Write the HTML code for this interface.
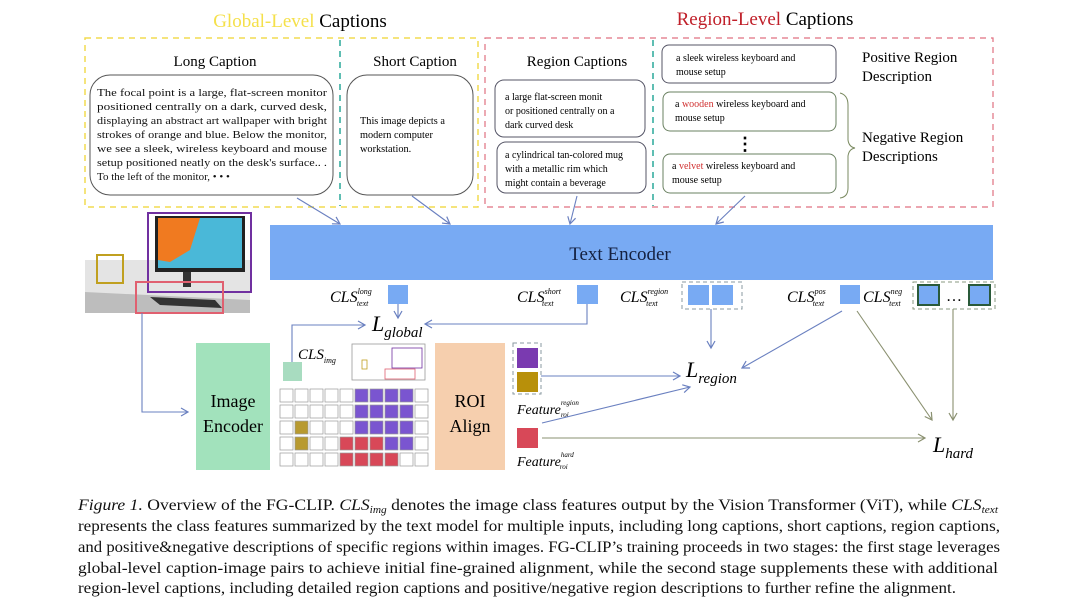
<!DOCTYPE html>
<html><head><meta charset="utf-8"><style>
html,body{margin:0;padding:0;background:#fff}
svg{display:block}
.s{font-family:"Liberation Serif",serif}
</style></head><body>
<svg width="1080" height="611" viewBox="0 0 1080 611" xmlns="http://www.w3.org/2000/svg" class="s">
<defs>
<marker id="a" markerWidth="10" markerHeight="10" refX="8" refY="5" orient="auto" markerUnits="userSpaceOnUse"><path d="M1,1 L8,5 L1,9" fill="none" stroke="#6a80c0" stroke-width="1.2"/></marker>
<marker id="g" markerWidth="10" markerHeight="10" refX="8" refY="5" orient="auto" markerUnits="userSpaceOnUse"><path d="M1,1 L8,5 L1,9" fill="none" stroke="#8a9070" stroke-width="1.2"/></marker>
</defs>
<text x="300" y="27" font-size="19" text-anchor="middle"><tspan fill="#f5e04a">Global-Level</tspan> Captions</text>
<text x="765" y="25" font-size="19" text-anchor="middle"><tspan fill="#c0202a">Region-Level</tspan> Captions</text>
<rect x="85" y="38" width="393" height="169" fill="none" stroke="#f2dc50" stroke-width="1.5" stroke-dasharray="6,5"/>
<line x1="340" y1="40" x2="340" y2="206" stroke="#2aa89a" stroke-width="1.5" stroke-dasharray="6,5"/>
<rect x="485" y="38" width="508" height="169" fill="none" stroke="#e07080" stroke-width="1.2" stroke-dasharray="6,5"/>
<line x1="653" y1="40" x2="653" y2="206" stroke="#2aa89a" stroke-width="1.5" stroke-dasharray="6,5"/>
<text x="215" y="66" font-size="15" text-anchor="middle">Long Caption</text>
<rect x="90" y="75" width="243" height="120" rx="20" fill="#fff" stroke="#555" stroke-width="1"/>
<g font-size="11" fill="#111">
<text x="97" y="96" textLength="230" lengthAdjust="spacingAndGlyphs">The focal point is a large, flat-screen monitor</text>
<text x="97" y="110" textLength="230" lengthAdjust="spacingAndGlyphs">positioned centrally on a dark, curved desk,</text>
<text x="97" y="124" textLength="230" lengthAdjust="spacingAndGlyphs">displaying an abstract art wallpaper with bright</text>
<text x="97" y="138" textLength="230" lengthAdjust="spacingAndGlyphs">strokes of orange and blue. Below the monitor,</text>
<text x="97" y="152" textLength="230" lengthAdjust="spacingAndGlyphs">we see a sleek, wireless keyboard and mouse</text>
<text x="97" y="166" textLength="230" lengthAdjust="spacingAndGlyphs">setup positioned neatly on the desk's surface.. .</text>
<text x="97" y="180">To the left of the monitor, • • •</text>
</g>
<text x="415" y="66" font-size="15" text-anchor="middle">Short Caption</text>
<rect x="347" y="75" width="126" height="120" rx="20" fill="#fff" stroke="#555"/>
<g font-size="10.3"><text x="360" y="124">This image depicts a</text><text x="360" y="138">modern computer</text><text x="360" y="152">workstation.</text></g>
<text x="577" y="66" font-size="15" text-anchor="middle">Region Captions</text>
<rect x="495" y="80" width="150" height="57" rx="9" fill="#fff" stroke="#556"/>
<g font-size="10"><text x="505" y="100">a large flat-screen monit</text><text x="505" y="114">or positioned centrally on a</text><text x="505" y="128">dark curved desk</text></g>
<rect x="497" y="142" width="149" height="51" rx="9" fill="#fff" stroke="#556"/>
<g font-size="10"><text x="505" y="158">a cylindrical tan-colored mug</text><text x="505" y="172">with a metallic rim which</text><text x="505" y="186">might contain a beverage</text></g>
<rect x="662" y="45" width="174" height="38" rx="7" fill="#fff" stroke="#556"/>
<g font-size="10"><text x="676" y="61">a sleek wireless keyboard and</text><text x="676" y="75">mouse setup</text></g>
<rect x="663" y="92" width="173" height="39" rx="7" fill="#fff" stroke="#6a8060"/>
<g font-size="10"><text x="675" y="107">a <tspan fill="#d03030">wooden</tspan> wireless keyboard and</text><text x="675" y="121">mouse setup</text></g>
<text x="745" y="150" font-size="18" text-anchor="middle" font-weight="bold">⋮</text>
<rect x="663" y="154" width="173" height="39" rx="7" fill="#fff" stroke="#6a8060"/>
<g font-size="10"><text x="672" y="169">a <tspan fill="#d03030">velvet</tspan> wireless keyboard and</text><text x="672" y="183">mouse setup</text></g>
<text x="862" y="62" font-size="15">Positive Region</text><text x="862" y="81" font-size="15">Description</text>
<text x="862" y="142" font-size="15">Negative Region</text><text x="862" y="161" font-size="15">Descriptions</text>
<path d="M840,93 Q848,95 848,105 L848,140 Q849,147 855,148 Q849,149 848,156 L848,188 Q848,197 840,198" fill="none" stroke="#7a8a60" stroke-width="1"/>
<g stroke="#6a80c0" stroke-width="1.1" fill="none" marker-end="url(#a)">
<line x1="297" y1="198" x2="340" y2="224"/>
<line x1="412" y1="196" x2="450" y2="224"/>
<line x1="577" y1="196" x2="570" y2="224"/>
<line x1="745" y1="196" x2="716" y2="224"/>
</g>
<rect x="270" y="225" width="723" height="55" fill="#78aaf3"/>
<text x="620" y="260" font-size="19" text-anchor="middle" fill="#142040">Text Encoder</text>
<rect x="85" y="260" width="165" height="53" fill="#e4e4e4"/>
<path d="M85,292 L250,300 L250,313 L85,313Z" fill="#bdbdbd"/>
<rect x="155" y="216" width="90" height="56" fill="#222"/>
<rect x="158" y="218" width="84" height="50" fill="#4ab8d8"/>
<path d="M158,218 L200,218 L190,250 L170,262 L158,260Z" fill="#f07a20"/>
<rect x="183" y="272" width="8" height="15" fill="#333"/>
<path d="M150,297 L215,300 L222,308 L160,305Z" fill="#333"/>
<rect x="148" y="213" width="103" height="79" fill="none" stroke="#7030a0" stroke-width="2"/>
<rect x="97" y="255" width="26" height="28" fill="none" stroke="#c0a020" stroke-width="2"/>
<rect x="136" y="282" width="87" height="31" fill="none" stroke="#e06070" stroke-width="2"/>
<g font-size="16" font-style="italic">
<text x="330" y="302">CLS<tspan font-size="8" dy="-8">long</tspan><tspan font-size="8" dx="-15" dy="12">text</tspan></text>
<text x="517" y="302">CLS<tspan font-size="8" dy="-8">short</tspan><tspan font-size="8" dx="-19" dy="12">text</tspan></text>
<text x="620" y="302">CLS<tspan font-size="8" dy="-8">region</tspan><tspan font-size="8" dx="-22" dy="12">text</tspan></text>
<text x="787" y="302">CLS<tspan font-size="8" dy="-8">pos</tspan><tspan font-size="8" dx="-13" dy="12">text</tspan></text>
<text x="863" y="302">CLS<tspan font-size="8" dy="-8">neg</tspan><tspan font-size="8" dx="-13" dy="12">text</tspan></text>
</g>
<rect x="388" y="285" width="20" height="19" fill="#78aaf3"/>
<rect x="577" y="285" width="21" height="19" fill="#78aaf3"/>
<rect x="682" y="282" width="60" height="27" fill="none" stroke="#8a9aa0" stroke-dasharray="4,3"/>
<rect x="688" y="285" width="21" height="20" fill="#78aaf3"/><rect x="712" y="285" width="21" height="20" fill="#78aaf3"/>
<rect x="840" y="285" width="20" height="19" fill="#78aaf3"/>
<rect x="913" y="282" width="82" height="27" fill="none" stroke="#8a9a80" stroke-dasharray="4,3"/>
<rect x="918" y="285" width="21" height="20" fill="#78aaf3" stroke="#2a5a3a" stroke-width="2"/>
<text x="954" y="301" font-size="16" text-anchor="middle">…</text>
<rect x="969" y="285" width="21" height="20" fill="#78aaf3" stroke="#2a5a3a" stroke-width="2"/>
<text x="372" y="331" font-size="22" font-style="italic">L<tspan font-size="15" dy="6">global</tspan></text>
<text x="686" y="377" font-size="22" font-style="italic">L<tspan font-size="15" dy="6">region</tspan></text>
<text x="933" y="452" font-size="22" font-style="italic">L<tspan font-size="15" dy="6">hard</tspan></text>
<rect x="196" y="343" width="74" height="127" fill="#a2e2bc"/>
<text x="233" y="407" font-size="18" text-anchor="middle">Image</text>
<text x="233" y="432" font-size="18" text-anchor="middle">Encoder</text>
<rect x="283" y="362" width="19" height="19" fill="#a8dcc0"/>
<text x="298" y="359" font-size="15" font-style="italic">CLS<tspan font-size="8" dy="4">img</tspan></text>
<rect x="352" y="344" width="73" height="36" fill="#fff" stroke="#999" stroke-width="0.8"/>
<rect x="392" y="348" width="30" height="20" fill="none" stroke="#7030a0" stroke-width="0.8"/>
<rect x="385" y="369" width="30" height="10" fill="none" stroke="#e06070" stroke-width="0.8"/>
<rect x="362" y="360" width="5" height="9" fill="none" stroke="#c0a020" stroke-width="0.8"/>
<g stroke="#999" stroke-width="0.7">
<rect x="280" y="389" width="13" height="13" fill="#fff"/><rect x="295" y="389" width="13" height="13" fill="#fff"/><rect x="310" y="389" width="13" height="13" fill="#fff"/><rect x="325" y="389" width="13" height="13" fill="#fff"/><rect x="340" y="389" width="13" height="13" fill="#fff"/><rect x="355" y="389" width="13" height="13" fill="#7a55d0"/><rect x="370" y="389" width="13" height="13" fill="#7a55d0"/><rect x="385" y="389" width="13" height="13" fill="#7a55d0"/><rect x="400" y="389" width="13" height="13" fill="#7a55d0"/><rect x="415" y="389" width="13" height="13" fill="#fff"/>
<rect x="280" y="405" width="13" height="13" fill="#fff"/><rect x="295" y="405" width="13" height="13" fill="#fff"/><rect x="310" y="405" width="13" height="13" fill="#fff"/><rect x="325" y="405" width="13" height="13" fill="#fff"/><rect x="340" y="405" width="13" height="13" fill="#fff"/><rect x="355" y="405" width="13" height="13" fill="#7a55d0"/><rect x="370" y="405" width="13" height="13" fill="#7a55d0"/><rect x="385" y="405" width="13" height="13" fill="#7a55d0"/><rect x="400" y="405" width="13" height="13" fill="#7a55d0"/><rect x="415" y="405" width="13" height="13" fill="#fff"/>
<rect x="280" y="421" width="13" height="13" fill="#fff"/><rect x="295" y="421" width="13" height="13" fill="#b89a30"/><rect x="310" y="421" width="13" height="13" fill="#fff"/><rect x="325" y="421" width="13" height="13" fill="#fff"/><rect x="340" y="421" width="13" height="13" fill="#fff"/><rect x="355" y="421" width="13" height="13" fill="#7a55d0"/><rect x="370" y="421" width="13" height="13" fill="#7a55d0"/><rect x="385" y="421" width="13" height="13" fill="#7a55d0"/><rect x="400" y="421" width="13" height="13" fill="#7a55d0"/><rect x="415" y="421" width="13" height="13" fill="#fff"/>
<rect x="280" y="437" width="13" height="13" fill="#fff"/><rect x="295" y="437" width="13" height="13" fill="#b89a30"/><rect x="310" y="437" width="13" height="13" fill="#fff"/><rect x="325" y="437" width="13" height="13" fill="#fff"/><rect x="340" y="437" width="13" height="13" fill="#d84858"/><rect x="355" y="437" width="13" height="13" fill="#d84858"/><rect x="370" y="437" width="13" height="13" fill="#d84858"/><rect x="385" y="437" width="13" height="13" fill="#7a55d0"/><rect x="400" y="437" width="13" height="13" fill="#7a55d0"/><rect x="415" y="437" width="13" height="13" fill="#fff"/>
<rect x="280" y="453" width="13" height="13" fill="#fff"/><rect x="295" y="453" width="13" height="13" fill="#fff"/><rect x="310" y="453" width="13" height="13" fill="#fff"/><rect x="325" y="453" width="13" height="13" fill="#fff"/><rect x="340" y="453" width="13" height="13" fill="#d84858"/><rect x="355" y="453" width="13" height="13" fill="#d84858"/><rect x="370" y="453" width="13" height="13" fill="#d84858"/><rect x="385" y="453" width="13" height="13" fill="#d84858"/><rect x="400" y="453" width="13" height="13" fill="#fff"/><rect x="415" y="453" width="13" height="13" fill="#fff"/>
</g>
<rect x="435" y="343" width="70" height="127" fill="#f6cfae"/>
<text x="470" y="407" font-size="18" text-anchor="middle">ROI</text>
<text x="470" y="432" font-size="18" text-anchor="middle">Align</text>
<rect x="513" y="343" width="28" height="51" fill="none" stroke="#8a9aa0" stroke-dasharray="4,3"/>
<rect x="517" y="348" width="21" height="20" fill="#7a3ab0"/>
<rect x="517" y="372" width="21" height="20" fill="#b8900a"/>
<text x="517" y="414" font-size="14" font-style="italic">Feature<tspan font-size="7" dy="-9">region</tspan><tspan font-size="7" dx="-18" dy="12">roi</tspan></text>
<rect x="517" y="428" width="21" height="20" fill="#d84858"/>
<text x="517" y="466" font-size="14" font-style="italic">Feature<tspan font-size="7" dy="-9">hard</tspan><tspan font-size="7" dx="-14" dy="12">roi</tspan></text>
<g stroke="#6a80c0" stroke-width="1.1" fill="none" marker-end="url(#a)">
<polyline points="142,313 142,412 188,412"/>
<polyline points="292,362 292,325 365,325"/>
<line x1="398" y1="304" x2="398" y2="318"/>
<polyline points="587,304 587,324 425,324"/>
<line x1="711" y1="309" x2="711" y2="348"/>
<line x1="842" y1="311" x2="742" y2="368"/>
<line x1="541" y1="376" x2="680" y2="376"/>
<line x1="542" y1="423" x2="690" y2="387"/>
</g>
<g stroke="#8a9070" stroke-width="1.1" fill="none" marker-end="url(#g)">
<line x1="542" y1="438" x2="925" y2="438"/>
<line x1="857" y1="311" x2="932" y2="420"/>
<line x1="953" y1="309" x2="953" y2="420"/>
</g>
<g font-size="15.5" fill="#111">
<text x="78" y="510" textLength="920" lengthAdjust="spacingAndGlyphs"><tspan font-style="italic">Figure 1.</tspan> Overview of the FG-CLIP. <tspan font-style="italic">CLS<tspan font-size="10" dy="3">img</tspan></tspan><tspan dy="-3"> denotes the image class features output by the Vision Transformer (ViT), while </tspan><tspan font-style="italic">CLS<tspan font-size="10" dy="3">text</tspan></tspan></text>
<text x="78" y="531" textLength="922" lengthAdjust="spacingAndGlyphs">represents the class features summarized by the text model for multiple inputs, including long captions, short captions, region captions,</text>
<text x="78" y="552" textLength="922" lengthAdjust="spacingAndGlyphs">and positive&amp;negative descriptions of specific regions within images. FG-CLIP’s training proceeds in two stages: the first stage leverages</text>
<text x="78" y="573" textLength="920" lengthAdjust="spacingAndGlyphs">global-level caption-image pairs to achieve initial fine-grained alignment, while the second stage supplements these with additional</text>
<text x="78" y="593" textLength="878" lengthAdjust="spacingAndGlyphs">region-level captions, including detailed region captions and positive/negative region descriptions to further refine the alignment.</text>
</g>
</svg>
</body></html>
